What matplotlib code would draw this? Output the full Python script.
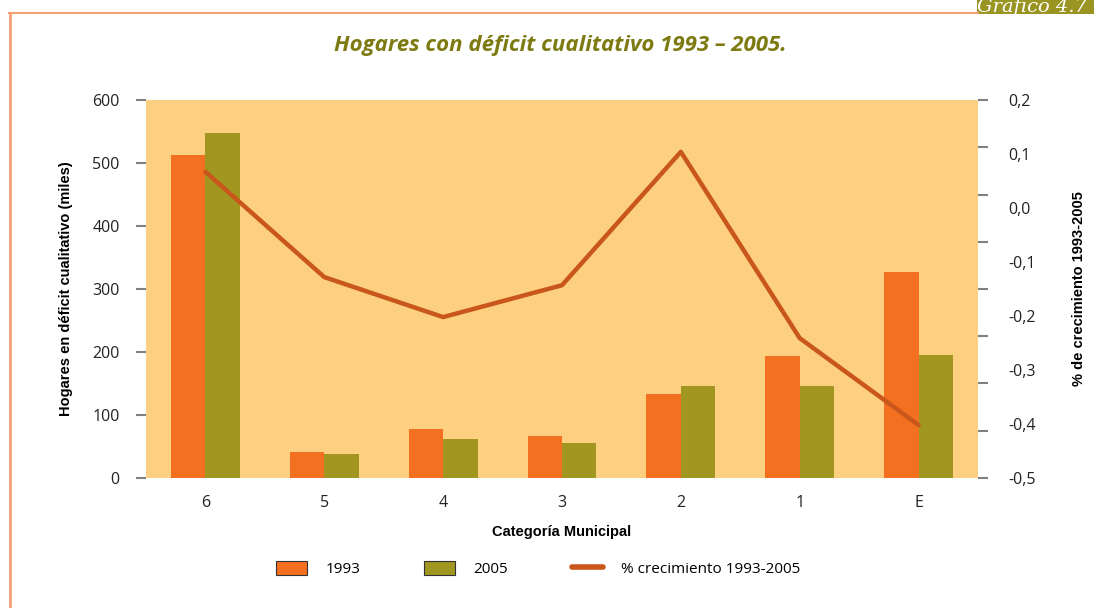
import numpy as np
import matplotlib
matplotlib.use('Agg')
import matplotlib.pyplot as plt
from matplotlib.patches import Rectangle
from matplotlib.lines import Line2D

categories = ['6', '5', '4', '3', '2', '1', 'E']
hogares_1993 = [513, 41, 78, 67, 133, 194, 327]
hogares_2005 = [548, 38, 62, 56, 146, 146, 195]
crecimiento = [0.067, -0.128, -0.202, -0.143, 0.104, -0.241, -0.402]
right_labels = [0.2, 0.1, 0.0, -0.1, -0.2, -0.3, -0.4, -0.5]

c1993 = '#F37021'
c2005 = '#A09620'
cline = '#C9561A'
bg = '#FDCF80'
olive = '#7D7A12'

plt.rcParams['font.family'] = ['Open Sans', 'DejaVu Sans']

fig = plt.figure(figsize=(10.94, 6.08), dpi=100)
fig.patch.set_facecolor('white')

# page frame and tab
fig.add_artist(Line2D([9/1094, 978/1094], [1-13/608, 1-13/608], color='#F3A273', lw=1.5))
fig.add_artist(Line2D([10/1094, 10/1094], [0, 1-13/608], color='#F3A273', lw=2))
fig.add_artist(Rectangle((977/1094, 1-14/608), 117/1094, 14/608, color='#9A9422', lw=0))
fig.text(0.943, 1-6/608, 'Gráfico 4.7', color='white', fontsize=14, style='italic',
         family='DejaVu Serif', ha='center', va='center')

ax = fig.add_axes([146/1094, 1-478/608, 832/1094, 378/608])
ax.set_facecolor(bg)
x = np.arange(len(categories))
w = 0.29
ax.bar(x - w/2, hogares_1993, w, color=c1993, zorder=2)
ax.bar(x + w/2, hogares_2005, w, color=c2005, zorder=2)
ax.set_xlim(-0.5, len(categories) - 0.5)
ax.set_ylim(0, 600)
ax.set_yticks(range(0, 601, 100))
ax.set_xticks(x)
ax.set_xticklabels(categories)
for s in ax.spines.values():
    s.set_visible(False)
ax.tick_params(axis='y', length=7, width=1.5, color='#808080', pad=12, labelsize=11.5,
               labelcolor='#222222')
ax.tick_params(axis='x', length=0, pad=12, labelsize=11.5, labelcolor='#222222')
ax.set_ylabel('Hogares en déficit cualitativo (miles)', fontsize=10.5, fontweight='bold',
              family='Liberation Sans', labelpad=14)
ax.set_xlabel('Categoría Municipal', fontsize=10.5, fontweight='bold',
              family='Liberation Sans', labelpad=10)

ax2 = ax.twinx()
ax2.plot(x, crecimiento, color=cline, lw=3.2, solid_capstyle='round', zorder=3)
ax2.set_ylim(-0.5, 0.2)
ax2.yaxis.remove_overlapping_locs = False
# tick marks (9) and labels (8) don't line up in the original
ax2.set_yticks(np.linspace(0.2, -0.5, 9))
ax2.set_yticklabels([])
ax2.set_yticks(right_labels, minor=True)
ax2.set_yticklabels([f'{v:.1f}'.replace('.', ',') if v != 0 else '0,0' for v in right_labels],
                    minor=True)
for s in ax2.spines.values():
    s.set_visible(False)
ax2.tick_params(axis='y', which='major', length=7, width=1.5, color='#808080')
ax2.tick_params(axis='y', which='minor', length=0, pad=22, labelsize=11.5, labelcolor='#222222')
ax2.set_ylabel('% de crecimiento 1993-2005', fontsize=10.5, fontweight='bold',
               family='Liberation Sans', labelpad=26)

fig.text(0.512, 1-46/608, 'Hogares con déficit cualitativo 1993 – 2005.', color=olive,
         fontsize=16, fontweight='bold', style='italic', family='Open Sans',
         ha='center', va='center')

handles = [Rectangle((0, 0), 1, 1, facecolor=c1993, edgecolor='#333333', lw=0.8),
           Rectangle((0, 0), 1, 1, facecolor=c2005, edgecolor='#333333', lw=0.8),
           Line2D([], [], color=cline, lw=4, solid_capstyle='round')]
fig.legend(handles, ['1993', '2005', '% crecimiento 1993-2005'], loc='center',
           bbox_to_anchor=(0.492, 1-569/608), ncol=3, frameon=False, fontsize=11,
           handlelength=2.0, handleheight=1.0, columnspacing=4.2, handletextpad=1.2)

fig.savefig('out.png', dpi=100)
